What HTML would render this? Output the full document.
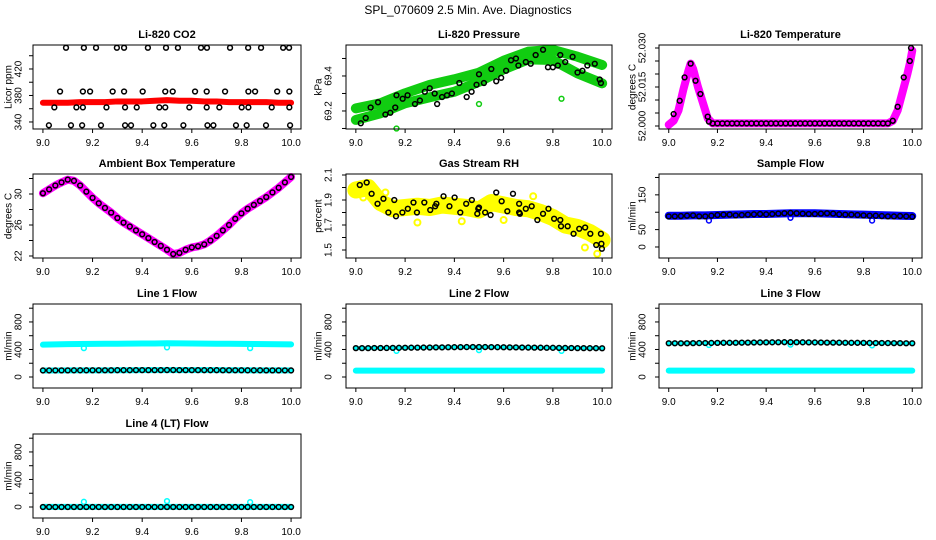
<!DOCTYPE html>
<html><head><meta charset="utf-8"><style>
body{margin:0;background:#fff}
svg{display:block}
text{font-family:"Liberation Sans",sans-serif;fill:#000}
</style></head><body>
<svg id="c" width="936" height="540" viewBox="0 0 936 540">
<text x="468" y="14" text-anchor="middle" font-size="12">SPL_070609  2.5 Min. Ave. Diagnostics</text>
</svg>
<script>
// ---------- data ----------
const step05 = [9.0,9.05,9.1,9.15,9.2,9.25,9.3,9.35,9.4,9.45,9.5,9.55,9.6,9.65,9.7,9.75,9.8,9.85,9.9,9.95,10.0];
const step025 = [9.0,9.025,9.05,9.075,9.1,9.125,9.15,9.175,9.2,9.225,9.25,9.275,9.3,9.325,9.35,9.375,9.4,9.425,9.45,9.475,9.5,9.525,9.55,9.575,9.6,9.625,9.65,9.675,9.7,9.725,9.75,9.775,9.8,9.825,9.85,9.875,9.9,9.925,9.95,9.975,10.0];
const xTicks = [9.0,9.2,9.4,9.6,9.8,10.0];
const xTickLabels = ["9.0","9.2","9.4","9.6","9.8","10.0"];

// CO2
const co2Red = [369,369,369,370,370,370,371,371,371,372,373,372,372,371,371,370,370,370,370,369,369];
const co2X = [9.093,9.165,9.214,9.298,9.327,9.423,9.496,9.544,9.637,9.661,9.754,9.827,9.879,9.968,9.992,
 9.069,9.161,9.190,9.281,9.327,9.402,9.493,9.523,9.613,9.660,9.734,9.828,9.855,9.944,9.993,
 9.046,9.135,9.161,9.256,9.331,9.378,9.469,9.493,9.590,9.660,9.711,9.801,9.828,9.922,9.993,
 9.024,9.113,9.158,9.234,9.331,9.355,9.445,9.489,9.566,9.663,9.687,9.778,9.821,9.899,9.996];
const co2Y = [452,452,452,452,452,452,452,452,452,452,452,452,452,452,452,
 386,386,386,386,386,386,386,386,386,386,386,386,386,386,386,
 362,362,362,362,362,362,362,362,362,362,362,362,362,362,362,
 335,335,335,335,335,335,335,335,335,335,335,335,335,335,335];

// Pressure
const presX11 = [9.0,9.1,9.2,9.3,9.4,9.5,9.6,9.7,9.8,9.9,10.0];
const presUpper = [69.215,69.244,69.301,69.349,69.381,69.419,69.487,69.539,69.549,69.510,69.463];
const presLower = [69.149,69.187,69.244,69.278,69.310,69.367,69.438,69.495,69.491,69.415,69.358];
const presX = [9.02,9.04,9.06,9.09,9.12,9.14,9.16,9.165,9.19,9.21,9.24,9.26,9.28,9.30,9.32,9.33,9.35,9.37,9.39,9.42,9.45,9.47,9.49,9.50,9.52,9.55,9.57,9.59,9.61,9.63,9.65,9.66,9.69,9.71,9.73,9.76,9.78,9.80,9.82,9.83,9.85,9.88,9.90,9.92,9.94,9.97,9.99,9.995];
const presY = [69.13,69.16,69.22,69.25,69.18,69.19,69.22,69.29,69.27,69.29,69.24,69.26,69.31,69.33,69.30,69.24,69.28,69.29,69.30,69.36,69.28,69.31,69.35,69.41,69.36,69.44,69.37,69.39,69.43,69.49,69.50,69.46,69.48,69.47,69.52,69.55,69.45,69.45,69.46,69.52,69.48,69.51,69.42,69.43,69.46,69.47,69.38,69.36];
const presOutX = [9.165,9.50,9.835];
const presOutY = [69.10,69.24,69.27];

// Li-820 temperature
const tempBandX = [9.0,9.02,9.04,9.06,9.08,9.09,9.10,9.12,9.14,9.16,9.18,9.3,9.5,9.7,9.9,9.92,9.94,9.96,9.98,9.99,10.0];
const tempBandY = [52.0005,52.002,52.006,52.014,52.021,52.024,52.022,52.015,52.009,52.003,52.001,52.001,52.001,52.001,52.001,52.002,52.006,52.013,52.020,52.024,52.029];
const tempX = [9.02,9.045,9.065,9.09,9.11,9.13,9.16,9.165,9.18,9.20,9.22,9.24,9.26,9.28,9.30,9.32,9.34,9.36,9.38,9.40,9.42,9.44,9.46,9.48,9.50,9.52,9.54,9.56,9.58,9.60,9.62,9.64,9.66,9.68,9.70,9.72,9.74,9.76,9.78,9.80,9.82,9.84,9.86,9.88,9.90,9.92,9.94,9.965,9.99,9.995];
const tempY = [52.0046,52.0097,52.0187,52.024,52.0174,52.0123,52.0036,52.0017,52.001,52.001,52.001,52.001,52.001,52.001,52.001,52.001,52.001,52.001,52.001,52.001,52.001,52.001,52.001,52.001,52.001,52.001,52.001,52.001,52.001,52.001,52.001,52.001,52.001,52.001,52.001,52.001,52.001,52.001,52.001,52.001,52.001,52.001,52.001,52.001,52.001,52.002,52.0074,52.0187,52.025,52.030];

// Ambient box temperature
const ambY = [30.1,30.6,31.1,31.5,31.85,31.7,31.1,30.3,29.5,28.8,28.2,27.6,26.9,26.3,25.8,25.3,24.8,24.3,23.8,23.3,22.8,22.25,22.4,22.8,23.1,23.25,23.5,24.0,24.6,25.3,26.0,26.8,27.5,28.1,28.6,29.1,29.6,30.2,30.8,31.5,32.2];

// Gas stream RH
const rhBand = [1.98,2.0,1.88,1.83,1.84,1.85,1.84,1.86,1.85,1.84,1.82,1.88,1.86,1.84,1.83,1.80,1.76,1.70,1.68,1.64,1.58];
const rhX = [9.016,9.044,9.064,9.088,9.112,9.132,9.156,9.163,9.189,9.211,9.234,9.248,9.278,9.302,9.322,9.327,9.356,9.380,9.401,9.424,9.448,9.471,9.493,9.497,9.500,9.525,9.547,9.570,9.592,9.615,9.638,9.663,9.663,9.666,9.690,9.714,9.737,9.760,9.782,9.805,9.830,9.833,9.860,9.884,9.907,9.931,9.952,9.976,9.995,9.997,9.999];
const rhY = [2.02,2.04,1.95,1.87,1.91,1.80,1.90,1.77,1.80,1.83,1.88,1.80,1.88,1.82,1.85,1.87,1.93,1.85,1.92,1.80,1.87,1.90,1.79,1.83,1.84,1.80,1.78,1.96,1.89,1.81,1.95,1.87,1.80,1.79,1.83,1.85,1.74,1.79,1.83,1.75,1.74,1.69,1.69,1.63,1.67,1.68,1.63,1.54,1.63,1.55,1.51];
const rhOutX = [9.03,9.12,9.25,9.43,9.60,9.72,9.93,9.98];
const rhOutY = [1.92,1.96,1.72,1.73,1.74,1.93,1.52,1.47];

// Sample flow
const sfBand = [90,90,91,91,92,93,94,95,95,96,97,97,97,96,95,94,93,92,91,90,89];
const sfBlack = [88,88,89,90,91,88,88,90,92,93,93,91,92,93,94,95,94,95,96,97,98,97,96,95,95,96,97,96,94,93,93,92,91,90,90,89,88,88,89,88,87];
const dipX = [9.165,9.5,9.835];
const sfDip = [76,84,76];

// Line flows
const l1Upper = [470,475,478,480,482,483,484,485,486,487,490,488,486,485,484,483,482,480,478,476,475];
const l1Lower = [95,95,96,96,97,97,98,98,99,99,100,100,100,99,99,98,98,97,97,96,96];
const l1Black = [95,95,96,96,96,97,97,97,98,98,98,98,99,99,99,100,100,100,100,100,101,101,100,100,100,100,99,99,99,98,98,98,98,97,97,97,96,96,96,96,95];
const l1Dip = [420,430,420];
const l2Cyan = [92,92,92,92,92,93,93,93,93,93,93,93,93,93,93,93,92,92,92,92,92];
const l2Black = [420,420,420,421,421,422,423,424,425,426,427,428,429,430,431,432,433,434,435,436,436,435,434,433,432,431,430,429,428,427,426,425,424,423,422,421,420,420,419,419,418];
const l2Dip = [380,390,380];
const l3Cyan = [92,92,92,92,92,93,93,93,93,93,93,93,93,93,93,93,92,92,92,92,92];
const l3Black = [490,490,491,491,492,493,494,495,496,497,497,498,499,500,501,502,503,504,505,506,506,505,504,503,502,501,500,500,499,498,497,497,496,495,494,494,493,492,492,491,490];
const l3Dip = [465,470,460];
const l4Cyan = [2,2,2,2,2,2,2,2,2,2,2,2,2,2,2,2,2,2,2,2,2];
const l4Black = [0,0,0,0,0,0,0,0,0,0,0,0,0,0,0,0,0,0,0,0,0,0,0,0,0,0,0,0,0,0,0,0,0,0,0,0,0,0,0,0,0];
const l4Dip = [75,85,70];

// ---------- drawing ----------
const NS = "http://www.w3.org/2000/svg";
const svg = document.getElementById("c");
const colLeft = [33,346,659], colRight = [301,612,922], colYlab = [9,319,633], colTickLab = [19,329,643];
const rowTop = [45,174,304,434], rowH = 84;
function mk(tag, attrs, parent){const e=document.createElementNS(NS,tag);for(const k in attrs)e.setAttribute(k,attrs[k]);(parent||svg).appendChild(e);return e;}

function panel(opt){
  const L=colLeft[opt.col], R=colRight[opt.col], T=rowTop[opt.row], B=T+rowH;
  const g=mk("g",{});
  
  
  const xs=v=>L+(v-8.96)/1.08*(R-L);
  const ys=v=>B-(v-opt.ymin)/(opt.ymax-opt.ymin)*(B-T);
  const t=mk("text",{x:(L+R)/2,y:T-7,"text-anchor":"middle","font-size":11,"font-weight":"bold"},g);
  t.textContent=opt.title;
  
  
  const yl=mk("text",{x:colYlab[opt.col],y:(T+B)/2,"text-anchor":"middle","font-size":10,transform:`rotate(-90 ${colYlab[opt.col]} ${(T+B)/2})`,"dominant-baseline":"central"},g);
  yl.textContent=opt.ylab;
  
  
  const plot=mk("g",{},g);
  
  
  const api={xs,ys,plot};
  opt.draw(api);
  const box=mk("rect",{x:L,y:T,width:R-L,height:B-T,fill:"none",stroke:"#000","stroke-width":1},g);
  
  
  xTicks.forEach((v,i)=>{
    const x=xs(v);
    mk("line",{x1:x,x2:x,y1:B,y2:B+4,stroke:"#000"},g);
    const tl=mk("text",{x:x,y:B+17,"text-anchor":"middle","font-size":10},g);
    tl.textContent=xTickLabels[i];
    
    
  });
  opt.yticks.forEach(v=>{
    const y=ys(v);
    mk("line",{x1:L-4,x2:L,y1:y,y2:y,stroke:"#000"},g);
  });
  opt.ylabels.forEach(v=>{
    const y=ys(v), x=colTickLab[opt.col];
    const tl=mk("text",{x:x,y:y,"text-anchor":"middle","font-size":10,"dominant-baseline":"central",transform:`rotate(-90 ${x} ${y})`},g);
    tl.textContent=opt.fmt?opt.fmt(v):String(v);
    
    
  });
}
function band(a,X,Y,color,w){
  const p=mk("polyline",{points:X.map((x,i)=>a.xs(x)+","+a.ys(Y[i])).join(" "),fill:"none",stroke:color,"stroke-width":w,"stroke-linejoin":"round","stroke-linecap":"round"},a.plot);
  
  
}
function pts(a,X,Y,color,r,sw){
  X.forEach((x,i)=>{
    const c=mk("circle",{cx:a.xs(x),cy:a.ys(Y[i]),r:r||2.4,fill:"none",stroke:color,"stroke-width":sw||1.5},a.plot);
    
    
  });
}
const flowTicks=[0,200,400,600,800,1000], flowLabels=[0,400,800];

panel({name:"co2-panel",row:0,col:0,title:"Li-820 CO2",ylab:"Licor ppm",ymin:329.4,ymax:456.2,yticks:[340,360,380,400,420,440],ylabels:[340,380,420],
 draw:a=>{band(a,step05,co2Red,"#f00",6);pts(a,co2X,co2Y,"#000");}});
panel({name:"pressure-panel",row:0,col:1,title:"Li-820 Pressure",ylab:"kPa",ymin:69.097,ymax:69.577,yticks:[69.1,69.2,69.3,69.4,69.5],ylabels:[69.2,69.4],fmt:v=>v.toFixed(1),
 draw:a=>{band(a,presX11,presUpper,"#1c1",10);band(a,presX11,presLower,"#1c1",10);pts(a,presOutX,presOutY,"#1c1");pts(a,presX,presY,"#000");}});
panel({name:"li820-temperature-panel",row:0,col:2,title:"Li-820 Temperature",ylab:"degrees C",ymin:51.99885,ymax:52.03115,yticks:[52.0,52.005,52.01,52.015,52.02,52.025,52.03],ylabels:[52.0,52.015,52.03],fmt:v=>v.toFixed(3),
 draw:a=>{band(a,tempBandX,tempBandY,"#f0f",8);pts(a,tempX,tempY,"#000");}});
panel({name:"ambient-temperature-panel",row:1,col:0,title:"Ambient Box Temperature",ylab:"degrees C",ymin:21.74,ymax:32.58,yticks:[22,24,26,28,30,32],ylabels:[22,26,30],
 draw:a=>{band(a,step025,ambY,"#f0f",8);pts(a,step025,ambY,"#000");}});
panel({name:"rh-panel",row:1,col:1,title:"Gas Stream RH",ylab:"percent",ymin:1.436,ymax:2.108,yticks:[1.5,1.6,1.7,1.8,1.9,2.0,2.1],ylabels:[1.5,1.7,1.9,2.1],fmt:v=>v.toFixed(1),
 draw:a=>{band(a,step05,rhBand,"#ff0",17);pts(a,rhOutX,rhOutY,"#ff0",3,2);pts(a,rhX,rhY,"#000");}});
panel({name:"sample-flow-panel",row:1,col:2,title:"Sample Flow",ylab:"ml/min",ymin:-31.7,ymax:210,yticks:[0,50,100,150,200],ylabels:[0,50,150],
 draw:a=>{band(a,step05,sfBand,"#00f",8);pts(a,dipX,sfDip,"#00f");pts(a,step025,sfBlack,"#000");}});
panel({name:"line1-flow-panel",row:2,col:0,title:"Line 1 Flow",ylab:"ml/min",ymin:-160,ymax:1061,yticks:flowTicks,ylabels:flowLabels,
 draw:a=>{band(a,step05,l1Upper,"#0ff",6);band(a,step05,l1Lower,"#0ff",6);pts(a,dipX,l1Dip,"#0ff");pts(a,step025,l1Black,"#000");}});
panel({name:"line2-flow-panel",row:2,col:1,title:"Line 2 Flow",ylab:"ml/min",ymin:-160,ymax:1061,yticks:flowTicks,ylabels:flowLabels,
 draw:a=>{band(a,step05,l2Cyan,"#0ff",6);pts(a,dipX,l2Dip,"#0ff");band(a,step025,l2Black,"#0ff",4);pts(a,step025,l2Black,"#000");}});
panel({name:"line3-flow-panel",row:2,col:2,title:"Line 3 Flow",ylab:"ml/min",ymin:-160,ymax:1061,yticks:flowTicks,ylabels:flowLabels,
 draw:a=>{band(a,step05,l3Cyan,"#0ff",6);pts(a,dipX,l3Dip,"#0ff");band(a,step025,l3Black,"#0ff",4);pts(a,step025,l3Black,"#000");}});
panel({name:"line4-flow-panel",row:3,col:0,title:"Line 4 (LT) Flow",ylab:"ml/min",ymin:-160,ymax:1061,yticks:flowTicks,ylabels:flowLabels,
 draw:a=>{band(a,step05,l4Cyan,"#0ff",6);pts(a,dipX,l4Dip,"#0ff");pts(a,step025,l4Black,"#000");}});
</script>
</body></html>
